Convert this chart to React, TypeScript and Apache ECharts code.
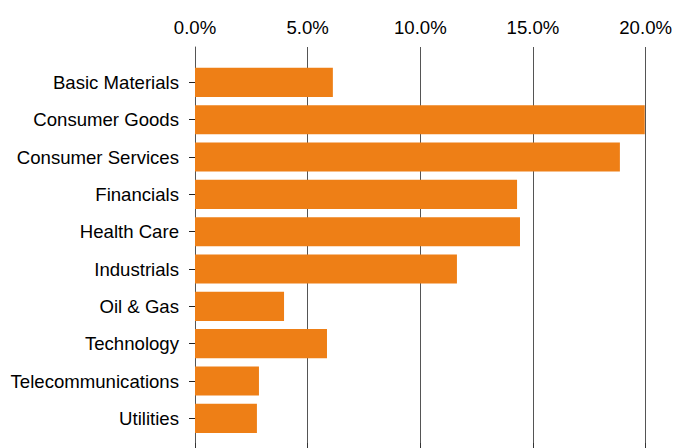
import React, { useEffect, useRef } from "react";
import * as echarts from "echarts";

const categories = [
  "Basic Materials",
  "Consumer Goods",
  "Consumer Services",
  "Financials",
  "Health Care",
  "Industrials",
  "Oil & Gas",
  "Technology",
  "Telecommunications",
  "Utilities",
];
const values = [6.1, 19.9, 18.8, 14.25, 14.38, 11.59, 3.94, 5.84, 2.83, 2.74];
const tickValues = [0, 5, 10, 15, 20];
const axisMax = 20.92;

const FONT = "'Liberation Sans', Arial, Helvetica, sans-serif";

export default function App() {
  const ref = useRef<HTMLDivElement>(null);
  useEffect(() => {
    if (!ref.current) return;
    const chart = echarts.init(ref.current, undefined, { renderer: "svg" });
    chart.setOption({
      animation: false,
      backgroundColor: "#ffffff",
      textStyle: { fontFamily: FONT },
      grid: [
        { left: 195, right: 7.2, top: 63.7, height: 373.3, containLabel: false },
        { left: 195, right: 7.2, top: 47, bottom: 0, containLabel: false },
      ],
      xAxis: [
        {
          gridIndex: 0,
          type: "value",
          min: 0,
          max: axisMax,
          show: false,
        },
        {
          gridIndex: 1,
          type: "value",
          position: "top",
          min: 0,
          max: axisMax,
          axisLine: { show: true, lineStyle: { color: "#555555", width: 1 } },
          axisTick: {
            show: true,
            customValues: tickValues,
            length: 5,
            lineStyle: { color: "#333333", width: 1 },
          },
          axisLabel: {
            customValues: tickValues,
            formatter: (v: number) => v.toFixed(1) + "%",
            fontSize: 18.6,
            color: "#000000",
            margin: 10,
            fontFamily: FONT,
          },
          splitLine: {
            show: true,
            lineStyle: { color: "#555555", width: 1 },
          },
        },
      ],
      yAxis: [
        {
          gridIndex: 0,
          type: "category",
          data: categories,
          inverse: true,
          axisLine: { show: false },
          axisTick: {
            show: true,
            alignWithLabel: true,
            length: 6,
            lineStyle: { color: "#222222" },
          },
          axisLabel: {
            fontSize: 18.6,
            color: "#000000",
            margin: 16,
            fontFamily: FONT,
          },
          splitLine: { show: false },
        },
        {
          gridIndex: 1,
          type: "value",
          min: 0,
          max: 1,
          axisLine: { show: true, lineStyle: { color: "#555555" } },
          axisTick: { show: false },
          axisLabel: { show: false },
          splitLine: { show: false },
        },
      ],
      series: [
        {
          type: "bar",
          xAxisIndex: 0,
          yAxisIndex: 0,
          data: values,
          barCategoryGap: "22%",
          itemStyle: { color: "#EE7F16" },
          z: 5,
        },
      ],
    });
    return () => chart.dispose();
  }, []);
  return (
    <div
      ref={ref}
      style={{ position: "fixed", left: 0, top: 0, width: 675, height: 448 }}
    />
  );
}
